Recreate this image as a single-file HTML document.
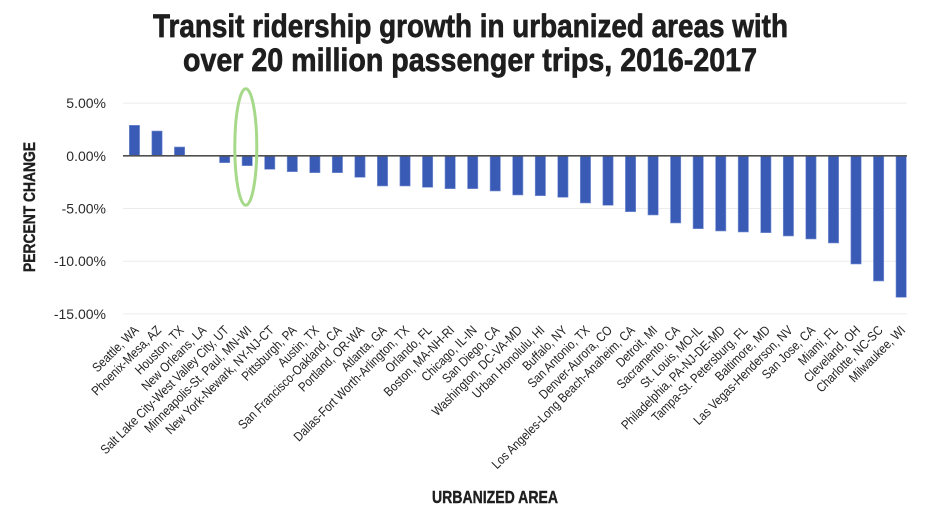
<!DOCTYPE html>
<html>
<head>
<meta charset="utf-8">
<style>
html,body{margin:0;padding:0;background:#fff;}
svg{display:block;}
text{font-family:"Liberation Sans",sans-serif;}
</style>
</head>
<body>
<svg width="940" height="517" viewBox="0 0 940 517" xmlns="http://www.w3.org/2000/svg">
<rect width="940" height="517" fill="#fff"/>
<!-- Title -->
<text x="153" y="37" font-size="32.5" font-weight="bold" fill="#1e1e1e" stroke="#1e1e1e" stroke-width="0.7" textLength="635" lengthAdjust="spacingAndGlyphs">Transit ridership growth in urbanized areas with</text>
<text x="183" y="71" font-size="32.5" font-weight="bold" fill="#1e1e1e" stroke="#1e1e1e" stroke-width="0.7" textLength="574" lengthAdjust="spacingAndGlyphs">over 20 million passenger trips, 2016-2017</text>

<!-- gridlines -->
<g stroke="#ececec" stroke-width="1">
<line x1="123" y1="103.1" x2="907" y2="103.1"/>
<line x1="123" y1="208.5" x2="907" y2="208.5"/>
<line x1="123" y1="261.2" x2="907" y2="261.2"/>
<line x1="123" y1="313.9" x2="907" y2="313.9"/>
</g>

<!-- y tick labels -->
<g font-size="14" fill="#2a2a2a" text-anchor="end">
<text x="106" y="108.1">5.00%</text>
<text x="106" y="160.8">0.00%</text>
<text x="106" y="213.5">-5.00%</text>
<text x="106" y="266.2">-10.00%</text>
<text x="106" y="318.9">-15.00%</text>
</g>

<!-- y axis title -->
<text transform="translate(35,207) rotate(-90)" text-anchor="middle" font-size="17" font-weight="bold" fill="#1e1e1e" stroke="#1e1e1e" stroke-width="0.4" textLength="130" lengthAdjust="spacingAndGlyphs">PERCENT CHANGE</text>

<!-- bars -->
<g fill="#3a5bb5" stroke="#7e95d6" stroke-width="0.6">
<rect x="129.3" y="125.3" width="10.3" height="30.5"/>
<rect x="151.85" y="131" width="10.3" height="24.8"/>
<rect x="174.4" y="147" width="10.3" height="8.8"/>
<rect x="219.5" y="155.8" width="10.3" height="6.9"/>
<rect x="242.05" y="155.8" width="10.3" height="9.9"/>
<rect x="264.6" y="155.8" width="10.3" height="13.5"/>
<rect x="287.15" y="155.8" width="10.3" height="15.9"/>
<rect x="309.7" y="155.8" width="10.3" height="16.9"/>
<rect x="332.25" y="155.8" width="10.3" height="16.9"/>
<rect x="354.8" y="155.8" width="10.3" height="21.5"/>
<rect x="377.35" y="155.8" width="10.3" height="30.2"/>
<rect x="399.9" y="155.8" width="10.3" height="30.2"/>
<rect x="422.45" y="155.8" width="10.3" height="31.5"/>
<rect x="445" y="155.8" width="10.3" height="32.9"/>
<rect x="467.55" y="155.8" width="10.3" height="32.9"/>
<rect x="490.1" y="155.8" width="10.3" height="35.2"/>
<rect x="512.65" y="155.8" width="10.3" height="39.2"/>
<rect x="535.2" y="155.8" width="10.3" height="39.9"/>
<rect x="557.75" y="155.8" width="10.3" height="41.5"/>
<rect x="580.3" y="155.8" width="10.3" height="47.2"/>
<rect x="602.85" y="155.8" width="10.3" height="49.5"/>
<rect x="625.4" y="155.8" width="10.3" height="55.9"/>
<rect x="647.95" y="155.8" width="10.3" height="59.2"/>
<rect x="670.5" y="155.8" width="10.3" height="67.2"/>
<rect x="693.05" y="155.8" width="10.3" height="72.9"/>
<rect x="715.6" y="155.8" width="10.3" height="75.2"/>
<rect x="738.15" y="155.8" width="10.3" height="76.2"/>
<rect x="760.7" y="155.8" width="10.3" height="76.9"/>
<rect x="783.25" y="155.8" width="10.3" height="80.2"/>
<rect x="805.8" y="155.8" width="10.3" height="83.2"/>
<rect x="828.35" y="155.8" width="10.3" height="87.2"/>
<rect x="850.9" y="155.8" width="10.3" height="108.2"/>
<rect x="873.45" y="155.8" width="10.3" height="125.2"/>
<rect x="896" y="155.8" width="10.3" height="141.5"/>
</g>

<!-- zero line -->
<line x1="123" y1="155.8" x2="907" y2="155.8" stroke="#505050" stroke-width="1.6"/>

<!-- highlight ellipse -->
<ellipse cx="245.8" cy="147" rx="11" ry="58.2" fill="none" stroke="#a6d98a" stroke-width="3"/>

<!-- x labels -->
<g font-size="13" fill="#222" text-anchor="end">
<text transform="translate(139.45,331) rotate(-45) scale(0.87,1)">Seattle, WA</text>
<text transform="translate(162,331) rotate(-45) scale(0.87,1)">Phoenix-Mesa, AZ</text>
<text transform="translate(184.55,331) rotate(-45) scale(0.87,1)">Houston, TX</text>
<text transform="translate(207.1,331) rotate(-45) scale(0.87,1)">New Orleans, LA</text>
<text transform="translate(229.65,331) rotate(-45) scale(0.87,1)">Salt Lake City-West Valley City, UT</text>
<text transform="translate(252.2,331) rotate(-45) scale(0.87,1)">Minneapolis-St. Paul, MN-WI</text>
<text transform="translate(274.75,331) rotate(-45) scale(0.87,1)">New York-Newark, NY-NJ-CT</text>
<text transform="translate(297.3,331) rotate(-45) scale(0.87,1)">Pittsburgh, PA</text>
<text transform="translate(319.85,331) rotate(-45) scale(0.87,1)">Austin, TX</text>
<text transform="translate(342.4,331) rotate(-45) scale(0.87,1)">San Francisco-Oakland, CA</text>
<text transform="translate(364.95,331) rotate(-45) scale(0.87,1)">Portland, OR-WA</text>
<text transform="translate(387.5,331) rotate(-45) scale(0.87,1)">Atlanta, GA</text>
<text transform="translate(410.05,331) rotate(-45) scale(0.87,1)">Dallas-Fort Worth-Arlington, TX</text>
<text transform="translate(432.6,331) rotate(-45) scale(0.87,1)">Orlando, FL</text>
<text transform="translate(455.15,331) rotate(-45) scale(0.87,1)">Boston, MA-NH-RI</text>
<text transform="translate(477.7,331) rotate(-45) scale(0.87,1)">Chicago, IL-IN</text>
<text transform="translate(500.25,331) rotate(-45) scale(0.87,1)">San Diego, CA</text>
<text transform="translate(522.8,331) rotate(-45) scale(0.87,1)">Washington, DC-VA-MD</text>
<text transform="translate(545.35,331) rotate(-45) scale(0.87,1)">Urban Honolulu, HI</text>
<text transform="translate(567.9,331) rotate(-45) scale(0.87,1)">Buffalo, NY</text>
<text transform="translate(590.45,331) rotate(-45) scale(0.87,1)">San Antonio, TX</text>
<text transform="translate(613,331) rotate(-45) scale(0.87,1)">Denver-Aurora, CO</text>
<text transform="translate(635.55,331) rotate(-45) scale(0.87,1)">Los Angeles-Long Beach-Anaheim, CA</text>
<text transform="translate(658.1,331) rotate(-45) scale(0.87,1)">Detroit, MI</text>
<text transform="translate(680.65,331) rotate(-45) scale(0.87,1)">Sacramento, CA</text>
<text transform="translate(703.2,331) rotate(-45) scale(0.87,1)">St. Louis, MO-IL</text>
<text transform="translate(725.75,331) rotate(-45) scale(0.87,1)">Philadelphia, PA-NJ-DE-MD</text>
<text transform="translate(748.3,331) rotate(-45) scale(0.87,1)">Tampa-St. Petersburg, FL</text>
<text transform="translate(770.85,331) rotate(-45) scale(0.87,1)">Baltimore, MD</text>
<text transform="translate(793.4,331) rotate(-45) scale(0.87,1)">Las Vegas-Henderson, NV</text>
<text transform="translate(815.95,331) rotate(-45) scale(0.87,1)">San Jose, CA</text>
<text transform="translate(838.5,331) rotate(-45) scale(0.87,1)">Miami, FL</text>
<text transform="translate(861.05,331) rotate(-45) scale(0.87,1)">Cleveland, OH</text>
<text transform="translate(883.6,331) rotate(-45) scale(0.87,1)">Charlotte, NC-SC</text>
<text transform="translate(906.15,331) rotate(-45) scale(0.87,1)">Milwaukee, WI</text>
</g>

<!-- x axis title -->
<text x="432" y="503" font-size="17.5" font-weight="bold" fill="#1e1e1e" stroke="#1e1e1e" stroke-width="0.4" textLength="126" lengthAdjust="spacingAndGlyphs">URBANIZED AREA</text>
</svg>
</body>
</html>
